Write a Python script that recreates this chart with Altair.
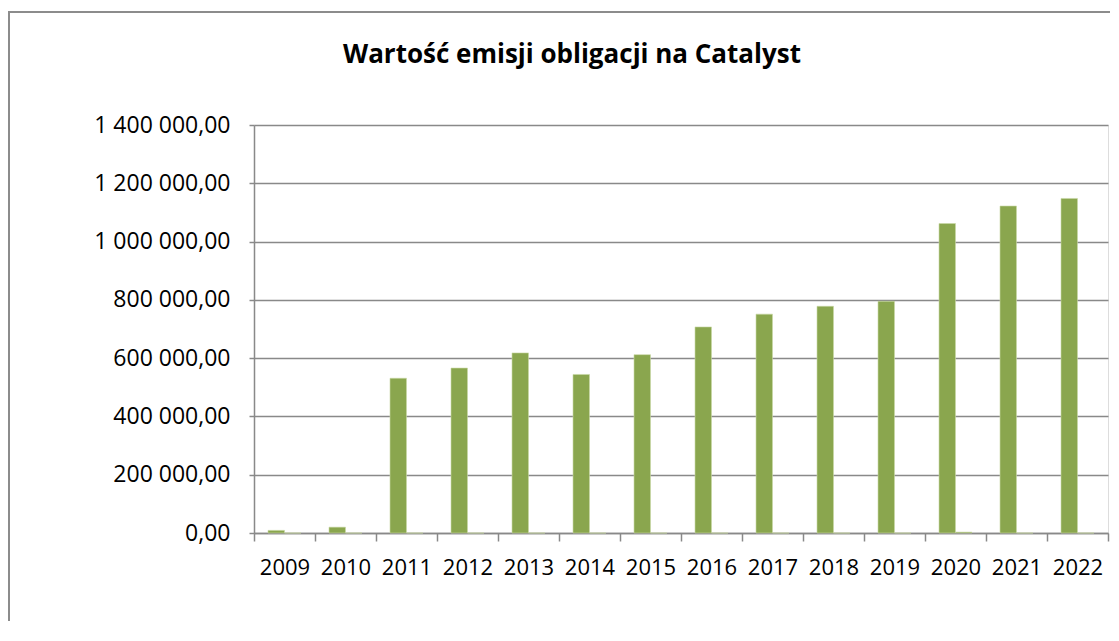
import altair as alt
import pandas as pd

years = ["2009", "2010", "2011", "2012", "2013", "2014", "2015",
         "2016", "2017", "2018", "2019", "2020", "2021", "2022"]
values_main = [9000, 20000, 531000, 566000, 618000, 544000, 612000,
               707000, 751000, 778000, 795000, 1062000, 1122000, 1148000]
values_second = [0, 0, 0, 0, 0, 0, 0, 0, 0, 0, 0, 3000, 0, 0]
series_names = ["A", "B"]
y_ticks = [0, 200000, 400000, 600000, 800000, 1000000, 1200000, 1400000]
title_text = "Wartość emisji obligacji na Catalyst"

rows = []
for y, a, b in zip(years, values_main, values_second):
    rows.append({"rok": y, "seria": series_names[0], "wartosc": a})
    rows.append({"rok": y, "seria": series_names[1], "wartosc": b})
df = pd.DataFrame(rows)
title_df = pd.DataFrame({"t": [title_text]})

GRAY = "#898989"
FONT = "Open Sans"

label_expr = ("replace(replace(format(datum.value, ',.2f'), regexp(',', 'g'), ' '), '.', ',')")

bars = alt.Chart(df).mark_bar(color="#8AA64E", stroke="#C9D9A6", strokeWidth=0.6).encode(
    x=alt.X("rok:N", sort=years, title=None,
            scale=alt.Scale(paddingInner=0, paddingOuter=0),
            axis=alt.Axis(labelAngle=0, tickBand="extent", tickSize=8,
                          labelPadding=16, labelFontSize=22, labelFont=FONT,
                          labelColor="#000000", domainColor=GRAY, tickColor=GRAY,
                          domainWidth=1.5, tickWidth=1.5, grid=False)),
    xOffset=alt.XOffset("seria:N", sort=series_names,
                        scale=alt.Scale(paddingOuter=0.85, paddingInner=0)),
    y=alt.Y("wartosc:Q", title=None,
            scale=alt.Scale(domain=[0, 1400000], nice=False),
            axis=alt.Axis(values=y_ticks, labelExpr=label_expr, tickSize=5,
                          labelPadding=19, labelFontSize=23, labelFont=FONT,
                          labelColor="#000000", domainColor=GRAY, tickColor=GRAY,
                          domainWidth=1.5, tickWidth=1.5, grid=True,
                          gridColor=GRAY, gridWidth=1.5)),
)

title_mark = alt.Chart(title_df).mark_text(
    font=FONT, fontSize=26, fontWeight="bold", color="#000000",
    align="center", baseline="alphabetic").encode(
    text="t:N", x=alt.value(318), y=alt.value(-62))

border_left = alt.Chart(title_df).mark_rule(color="#8C8C8C", strokeWidth=2).encode(
    x=alt.value(-245), y=alt.value(-113), y2=alt.value(600))
border_top = alt.Chart(title_df).mark_rule(color="#8C8C8C", strokeWidth=2).encode(
    x=alt.value(-246), x2=alt.value(900), y=alt.value(-113))

chart = alt.layer(bars, title_mark, border_left, border_top).properties(
    width=854, height=408,
    padding={"left": 246, "top": 117, "right": 2, "bottom": 88},
    autosize=alt.AutoSizeParams(type="none"),
).configure_view(stroke=None).configure(background="#FFFFFF")

chart.save("out.html", embed_options={"renderer": "svg", "actions": False})
